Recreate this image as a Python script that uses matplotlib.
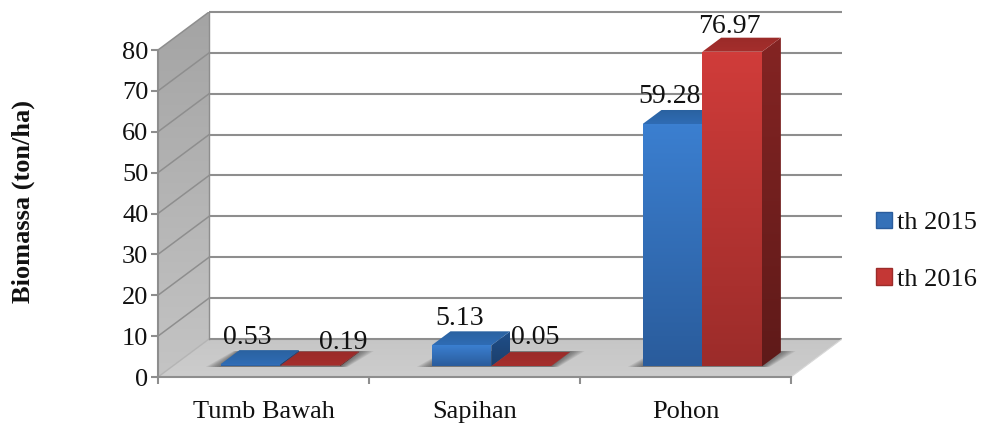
import matplotlib
import numpy as np
import matplotlib.pyplot as plt
from matplotlib.colors import LinearSegmentedColormap
from matplotlib.patches import Patch, Polygon

matplotlib.use('Agg')
plt.rcParams['font.family'] = ['Liberation Serif', 'DejaVu Serif']

categories = ['Tumb Bawah', 'Sapihan', 'Pohon']
series_names = ['th 2015', 'th 2016']
values_2015 = [0.53, 5.13, 59.28]
values_2016 = [0.19, 0.05, 76.97]
y_ticks = [0, 10, 20, 30, 40, 50, 60, 70, 80]

# depth of the fake 3D box, in data units
DEPTH_X = 0.242
DEPTH_Y = 9.3
BAR_WIDTH = 0.283
BAR_DEPTH_START = 0.28
BAR_DEPTH_END = 0.65
GRID = '#8e8e8e'

# front, top and side shades: (upper colour, lower colour)
BLUE = {'front': ('#3b7fd0', '#2a5c9c'), 'top': ('#2a619f', '#2f6cb4'), 'side': ('#1f4f8a', '#1c3f6c')}
RED = {'front': ('#d03c3a', '#9c2c2a'), 'top': ('#9a2b29', '#a52e2c'), 'side': ('#842423', '#5f1a19')}

# label centre shift from the bar's top centre, in pixels
label_shift_2015 = [(-3, 27), (-2, 27), (-3, 28)]
label_shift_2016 = [(33, 23), (14, 29), (-3, 25)]


def shade(ax, verts, upper, lower, zorder):
    """Fill a polygon with a vertical gradient."""
    verts = np.array(verts)
    cmap = LinearSegmentedColormap.from_list('face', [upper, lower])
    extent = (verts[:, 0].min(), verts[:, 0].max(), verts[:, 1].min(), verts[:, 1].max())
    im = ax.imshow(np.linspace(0, 1, 64).reshape(-1, 1), extent=extent, origin='upper',
                   cmap=cmap, aspect='auto', zorder=zorder, interpolation='bilinear')
    im.set_clip_path(Polygon(verts, transform=ax.transData))


def draw_bar(ax, left, value, colors, zorder):
    right = left + BAR_WIDTH
    x0 = DEPTH_X * BAR_DEPTH_START
    y0 = DEPTH_Y * BAR_DEPTH_START
    x1 = DEPTH_X * BAR_DEPTH_END
    y1 = DEPTH_Y * BAR_DEPTH_END
    front = [(left + x0, y0), (right + x0, y0), (right + x0, y0 + value), (left + x0, y0 + value)]
    top = [(left + x0, y0 + value), (right + x0, y0 + value),
           (right + x1, y1 + value), (left + x1, y1 + value)]
    side = [(right + x0, y0), (right + x1, y1), (right + x1, y1 + value), (right + x0, y0 + value)]
    shade(ax, side, *colors['side'], zorder)
    shade(ax, top, *colors['top'], zorder)
    shade(ax, front, *colors['front'], zorder + 0.1)


def draw_shadow(ax, left, right):
    # soft dark patch on the floor around a bar pair
    x0 = DEPTH_X * BAR_DEPTH_START
    y0 = DEPTH_Y * BAR_DEPTH_START
    x1 = DEPTH_X * BAR_DEPTH_END
    y1 = DEPTH_Y * BAR_DEPTH_END
    for grow in np.linspace(0.07, 0.01, 7):
        ax.add_patch(Polygon([(left + x0 - grow, y0 - 0.15), (right + x0 + grow * 0.5, y0 - 0.15),
                              (right + x1 + grow, y1 + 0.3), (left + x1 - grow * 0.4, y1 + 0.3)],
                             facecolor='#303030', edgecolor='none', alpha=0.1, zorder=2))


fig = plt.figure(figsize=(9.82, 4.25), dpi=100)
ax = fig.add_axes([158 / 982, (425 - 377) / 425, 684 / 982, 365 / 425])
ax.patch.set_alpha(0)

n = len(categories)
x_max = n + DEPTH_X
y_max = max(y_ticks) + DEPTH_Y

# side wall and floor of the box
shade(ax, [(0, 0), (DEPTH_X, DEPTH_Y), (DEPTH_X, y_max), (0, max(y_ticks))], '#a4a4a4', '#c4c4c4', 1)
shade(ax, [(0, 0), (n, 0), (x_max, DEPTH_Y), (DEPTH_X, DEPTH_Y)], '#c6c6c6', '#cdcdcd', 1)

# gridlines run along the back wall and down the side wall
for t in y_ticks:
    ax.plot([DEPTH_X, x_max], [t + DEPTH_Y, t + DEPTH_Y], color=GRID, lw=1.5, zorder=1.5,
            solid_capstyle='butt', clip_on=False)
    if t > 0:
        ax.plot([0, DEPTH_X], [t, t + DEPTH_Y], color=GRID, lw=1.1, zorder=1.5)
ax.plot([0, DEPTH_X], [0, DEPTH_Y], color='#b4b4b4', lw=1.0, zorder=1.5)
ax.plot([DEPTH_X, DEPTH_X], [DEPTH_Y, y_max], color=GRID, lw=1.0, zorder=1.5)
ax.plot([n, x_max], [0, DEPTH_Y], color='#d8d8d8', lw=0.8, zorder=1.5)

for i in range(n):
    center = i + 0.5 + 0.012
    draw_shadow(ax, center - BAR_WIDTH, center + BAR_WIDTH)
    draw_bar(ax, center - BAR_WIDTH, values_2015[i], BLUE, 3 + i)
    draw_bar(ax, center, values_2016[i], RED, 3.5 + i)

    base = DEPTH_Y * BAR_DEPTH_START
    shift_x = DEPTH_X * BAR_DEPTH_START
    ax.annotate(f'{values_2015[i]:.2f}', (center - BAR_WIDTH / 2 + shift_x, base + values_2015[i]),
                xytext=label_shift_2015[i], textcoords='offset pixels', ha='center', va='center',
                fontsize=20, color='#111111', zorder=10)
    ax.annotate(f'{values_2016[i]:.2f}', (center + BAR_WIDTH / 2 + shift_x, base + values_2016[i]),
                xytext=label_shift_2016[i], textcoords='offset pixels', ha='center', va='center',
                fontsize=20, color='#111111', zorder=10)

ax.set_xlim(0, x_max)
ax.set_ylim(0, y_max)

for name in ['top', 'right']:
    ax.spines[name].set_visible(False)
ax.spines['left'].set_bounds(0, max(y_ticks))
ax.spines['bottom'].set_bounds(0, n)
for name in ['left', 'bottom']:
    ax.spines[name].set_color(GRID)
    ax.spines[name].set_linewidth(1.5)

ax.set_yticks(y_ticks)
ax.tick_params(axis='y', length=5, width=1.5, color=GRID, labelsize=19, pad=2, labelcolor='#111111')
ax.set_xticks(np.arange(n + 1), minor=True)
ax.set_xticks(np.arange(n) + 0.5, categories)
ax.tick_params(axis='x', which='minor', length=5, width=1.5, color=GRID)
ax.tick_params(axis='x', which='major', length=0, labelsize=19, pad=17, labelcolor='#111111')

ax.set_ylabel('Biomassa (ton/ha)', fontsize=19, fontweight='bold', color='#111111')
ax.yaxis.set_label_coords(-0.180, 0.48)

handles = [Patch(facecolor='#3571b8', edgecolor='#2a5c9c', label=series_names[0]),
           Patch(facecolor='#c43735', edgecolor='#9c2c2a', label=series_names[1])]
ax.legend(handles=handles, loc='center left', bbox_to_anchor=(1.05, 0.345), frameon=False,
          fontsize=19, handlelength=0.6, handleheight=0.6, handletextpad=0.17,
          labelspacing=1.27, borderpad=0, borderaxespad=0, labelcolor='#111111')

plt.savefig('out.png', dpi=100)
plt.close()
